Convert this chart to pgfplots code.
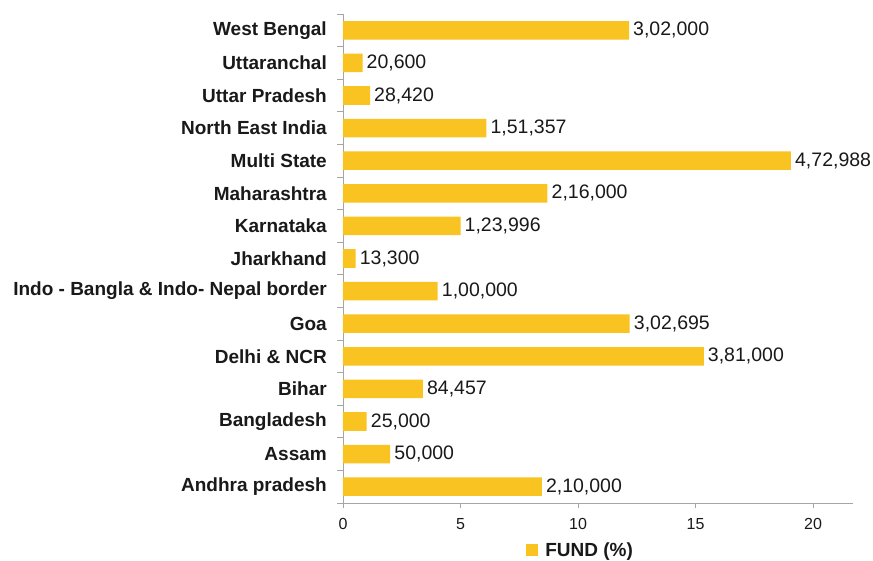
\documentclass[border=0pt]{standalone}
\usepackage{pgfplots}
\pgfplotsset{compat=1.18}
\usepackage{pgfplotstable}
\usepackage{fontspec}
\setmainfont{Liberation Sans}
\definecolor{barc}{RGB}{249,195,34}
\definecolor{axc}{RGB}{165,165,165}
\definecolor{txt}{RGB}{25,25,25}
\pgfplotstableread{
y pct lab
0 8.46 2,10,000
1 2.01 50,000
2 1.01 25,000
3 3.40 84,457
4 15.35 3,81,000
5 12.20 3,02,695
6 4.03 1,00,000
7 0.54 13,300
8 5.00 1,23,996
9 8.70 2,16,000
10 19.06 4,72,988
11 6.10 1,51,357
12 1.15 28,420
13 0.83 20,600
14 12.17 3,02,000
}\fundtable
\begin{document}
\begin{tikzpicture}
\useasboundingbox (-343bp,-58bp) rectangle (530bp,503bp);
\begin{axis}[
  at={(0,0)}, anchor=south west,
  scale only axis, width=510bp, height=489bp,
  xbar, bar width=0.57, bar shift=0pt,
  xmin=0, xmax=21.7, ymin=-0.5, ymax=14.5,
  axis x line*=bottom, axis y line*=left,
  axis line style={axc, line width=0.8bp, -},
  xtick={0,5,10,15,20},
  ytick={0,...,14},
  yticklabels={Andhra pradesh,Assam,Bangladesh,Bihar,Delhi \& NCR,Goa,Indo - Bangla \& Indo- Nepal border,Jharkhand,Karnataka,Maharashtra,Multi State,North East India,Uttar Pradesh,Uttaranchal,West Bengal},
  minor ytick={-0.5,0.5,...,14.5},
  tick align=outside,
  major tick length=5bp,
  minor tick length=6bp,
  tick style={axc, line width=0.8bp},
  major y tick style={draw=none},
  xticklabel style={font=\fontsize{16bp}{19bp}\selectfont, text=txt, inner sep=0pt, yshift=-10bp},
  yticklabel style={font=\bfseries\fontsize{19bp}{22bp}\selectfont, text=txt, inner sep=0pt, xshift=-11bp},
  /pgf/number format/assume math mode=true,
  nodes near coords,
  point meta=explicit symbolic,
  every node near coord/.append style={font=\fontsize{19.5bp}{22bp}\selectfont, text=txt, anchor=west, inner sep=0pt, xshift=4bp},
  legend style={at={(0.359,-0.096)}, anchor=west, draw=none, fill=none, inner sep=0pt,
    font=\bfseries\fontsize{19bp}{22bp}\selectfont, text=txt},
  legend image code/.code={\fill[barc] (0bp,-5.7bp) rectangle (11.4bp,5.7bp);\path (17bp,0);},
]
\addplot[fill=barc, draw=none] table[x=pct, y=y, meta=lab] {\fundtable};
\addlegendentry{FUND (\%)}
\end{axis}
\end{tikzpicture}
\end{document}
